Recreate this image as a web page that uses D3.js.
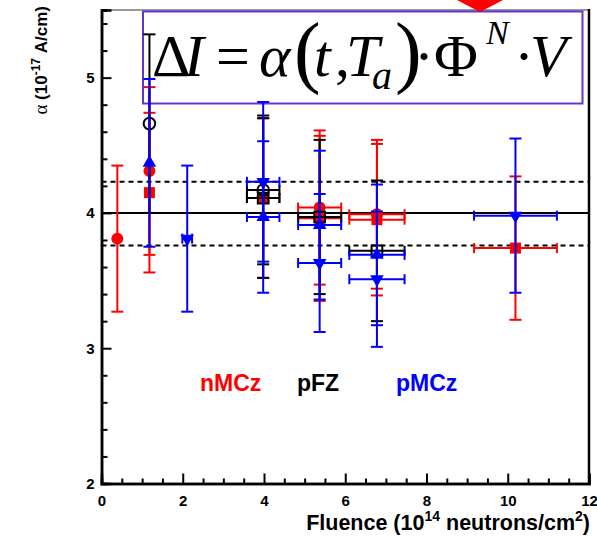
<!DOCTYPE html>
<html>
<head>
<meta charset="utf-8">
<script src="https://cdn.jsdelivr.net/npm/d3@7"></script>
<style>
body { margin: 0; background: #fff; }
svg { display: block; font-family: "Liberation Sans", Arial, sans-serif; }
</style>
</head>
<body>
<svg id="chart" width="597" height="537"></svg>
<script>
// fluence in 1e14 n/cm2, alpha in 1e-17 A/cm
const nMCzCircX = [0.39, 1.18, 5.37, 6.78];
const nMCzCircY = [3.81, 4.31, 4.04, 3.99];
const nMCzCircEy = [0.54, 0.62, 0.57, 0.55];
const nMCzCircEx = [0, 0, 0.53, 0.68];

const nMCzSqX = [1.18, 3.98, 5.37, 6.78, 10.19];
const nMCzSqY = [4.15, 4.11, 3.96, 3.95, 3.74];
const nMCzSqEy = [0.59, 0.59, 0.61, 0.56, 0.53];
const nMCzSqEx = [0, 0.4, 0.53, 0.68, 1.02];

const pFZCircX = [1.18, 3.98];
const pFZCircY = [4.66, 4.17];
const pFZCircEy = [0.66, 0.55];
const pFZCircEx = [0, 0.4];

const pFZSqX = [3.98, 5.37, 6.78];
const pFZSqY = [4.11, 3.97, 3.72];
const pFZSqEy = [0.59, 0.57, 0.52];
const pFZSqEx = [0.4, 0.53, 0.68];

const pMCzUpX = [1.18, 3.98, 5.37, 6.78];
const pMCzUpY = [4.37, 3.97, 3.91, 3.69];
const pMCzUpEy = [0.62, 0.56, 0.55, 0.52];
const pMCzUpEx = [0, 0.4, 0.53, 0.68];

const pMCzDownX = [2.11, 3.98, 5.37, 6.78, 10.19];
const pMCzDownY = [3.81, 4.23, 3.63, 3.51, 3.98];
const pMCzDownEy = [0.54, 0.59, 0.51, 0.5, 0.57];
const pMCzDownEx = [0.12, 0.4, 0.53, 0.68, 1.02];

const meanLine = 4.0;
const bandLines = [4.23, 3.76];

const xMajor = [0, 2, 4, 6, 8, 10, 12];
const yMajor = [2, 3, 4, 5];

const legendNames = ['nMCz', 'pFZ', 'pMCz'];

const svg = d3.select('#chart');
const x = d3.scaleLinear().domain([0, 12]).range([101.5, 589]);
const y = d3.scaleLinear().domain([2, 5.5]).range([483.5, 10]);

const sans = '"Liberation Sans", Arial, sans-serif';
const serif = '"Liberation Serif", "Times New Roman", serif';

// frame
svg.append('line').attr('x1', 101.5).attr('x2', 589).attr('y1', 10).attr('y2', 10)
    .attr('stroke', '#777').attr('stroke-width', 1.5);
svg.append('line').attr('x1', 589).attr('x2', 589).attr('y1', 9).attr('y2', 484.5)
    .attr('stroke', '#000').attr('stroke-width', 2.5);

// axes
const xMinor = d3.range(0, 12.01, 0.5).filter(v => v % 2 !== 0);
const yMinor = d3.range(2, 5.51, 0.2).filter(v => Math.abs(v - Math.round(v)) > 0.01);

const gx = svg.append('g').attr('transform', 'translate(0,483.5)');
gx.call(d3.axisBottom(x).tickValues(xMajor).tickSize(-10).tickPadding(12).tickFormat(d3.format('d')));
gx.append('g').call(d3.axisBottom(x).tickValues(xMinor).tickSize(-5).tickFormat(''));
gx.selectAll('.tick line').attr('stroke-width', 2);

const gy = svg.append('g').attr('transform', 'translate(101.5,0)');
gy.call(d3.axisLeft(y).tickValues(yMajor).tickSize(-10).tickPadding(7).tickFormat(d3.format('d')));
gy.append('g').call(d3.axisLeft(y).tickValues(yMinor).tickSize(-6).tickFormat(''));
gy.selectAll('.tick line').attr('stroke-width', 2);

svg.selectAll('.domain').attr('stroke-width', 2.5);
svg.selectAll('.tick text').style('font-family', sans).style('font-size', '15px').style('font-weight', 'bold');

// reference lines
svg.append('line').attr('x1', x(0)).attr('x2', x(12)).attr('y1', y(meanLine)).attr('y2', y(meanLine))
    .attr('stroke', '#000').attr('stroke-width', 2);
svg.selectAll('.band').data(bandLines).enter().append('line')
    .attr('x1', x(0)).attr('x2', x(12)).attr('y1', d => y(d)).attr('y2', d => y(d))
    .attr('stroke', '#000').attr('stroke-width', 2).attr('stroke-dasharray', '5,4');

// formula box (under the data, the error bars run over it)
svg.append('rect').attr('x', 143).attr('y', 11.5).attr('width', 439.5).attr('height', 92)
    .attr('fill', '#fff').attr('stroke', '#6633cc').attr('stroke-width', 2);

const glyphs = [
    { t: '\u0394', x: 152, y: 76, s: 60, i: false },
    { t: 'I', x: 184, y: 76, s: 60, i: true },
    { t: '=', x: 216, y: 76, s: 60, i: false },
    { t: '\u03b1', x: 259, y: 76, s: 60, i: true },
    { t: '(', x: 294, y: 78, s: 80, i: false },
    { t: 't', x: 314, y: 76, s: 60, i: true },
    { t: ',', x: 335, y: 76, s: 60, i: false },
    { t: 'T', x: 346, y: 76, s: 60, i: true },
    { t: 'a', x: 372, y: 89, s: 40, i: true },
    { t: ')', x: 395, y: 78, s: 80, i: false },
    { t: '\u00b7', x: 414, y: 76, s: 60, i: false },
    { t: '\u03a6', x: 434, y: 76, s: 60, i: false },
    { t: 'N', x: 486, y: 44, s: 34, i: true },
    { t: '\u00b7', x: 514, y: 76, s: 60, i: false },
    { t: 'V', x: 530, y: 76, s: 60, i: true }
];
const formula = svg.append('text').style('font-family', serif).style('font-size', '60px');
formula.selectAll('tspan').data(glyphs).enter().append('tspan')
    .attr('x', d => d.x).attr('y', d => d.y)
    .style('font-size', d => d.s + 'px')
    .style('font-style', d => d.i ? 'italic' : 'normal')
    .text(d => d.t);

// series
function zip(xs, ys, eys, exs) {
    return xs.map((v, i) => ({ x: v, y: ys[i], ey: eys[i], ex: exs[i] }));
}

const series = [
    { color: '#ff0000', shape: 'square', fill: true, data: zip(nMCzSqX, nMCzSqY, nMCzSqEy, nMCzSqEx) },
    { color: '#ff0000', shape: 'circle', fill: true, data: zip(nMCzCircX, nMCzCircY, nMCzCircEy, nMCzCircEx) },
    { color: '#000000', shape: 'square', fill: false, data: zip(pFZSqX, pFZSqY, pFZSqEy, pFZSqEx) },
    { color: '#000000', shape: 'circle', fill: false, data: zip(pFZCircX, pFZCircY, pFZCircEy, pFZCircEx) },
    { color: '#0000ff', shape: 'up', fill: true, data: zip(pMCzUpX, pMCzUpY, pMCzUpEy, pMCzUpEx) },
    { color: '#0000ff', shape: 'down', fill: true, data: zip(pMCzDownX, pMCzDownY, pMCzDownEy, pMCzDownEx) }
];

const capW = 6, capH = 5;

series.forEach(s => {
    const g = svg.append('g');
    const pts = g.selectAll('g').data(s.data).enter().append('g');

    pts.append('line')
        .attr('x1', d => x(d.x)).attr('x2', d => x(d.x))
        .attr('y1', d => y(d.y - d.ey)).attr('y2', d => y(d.y + d.ey))
        .attr('stroke', s.color).attr('stroke-width', 2);
    [-1, 1].forEach(sg => {
        pts.append('line')
            .attr('x1', d => x(d.x) - capW).attr('x2', d => x(d.x) + capW)
            .attr('y1', d => y(d.y + sg * d.ey)).attr('y2', d => y(d.y + sg * d.ey))
            .attr('stroke', s.color).attr('stroke-width', 2);
    });

    const hx = pts.filter(d => d.ex > 0);
    hx.append('line')
        .attr('x1', d => x(d.x - d.ex)).attr('x2', d => x(d.x + d.ex))
        .attr('y1', d => y(d.y)).attr('y2', d => y(d.y))
        .attr('stroke', s.color).attr('stroke-width', 2);
    [-1, 1].forEach(sg => {
        hx.append('line')
            .attr('x1', d => x(d.x + sg * d.ex)).attr('x2', d => x(d.x + sg * d.ex))
            .attr('y1', d => y(d.y) - capH).attr('y2', d => y(d.y) + capH)
            .attr('stroke', s.color).attr('stroke-width', 2);
    });

    let sym;
    if (s.shape === 'circle') sym = d3.symbol(d3.symbolCircle, s.fill ? 113 : 105);
    else if (s.shape === 'square') sym = d3.symbol(d3.symbolSquare, s.fill ? 121 : 115);
    else sym = d3.symbol(d3.symbolTriangle, 80);

    pts.append('path')
        .attr('d', sym)
        .attr('transform', d => `translate(${x(d.x)},${y(d.y)})` + (s.shape === 'down' ? ' rotate(180)' : ''))
        .attr('fill', s.fill ? s.color : 'none')
        .attr('stroke', s.color)
        .attr('stroke-width', s.fill ? 0 : 2);
});

// legend labels
const legendColors = ['#ff0000', '#000000', '#0000ff'];
const legendX = [200, 297, 396];
svg.selectAll('.leg').data(legendNames).enter().append('text')
    .attr('x', (d, i) => legendX[i]).attr('y', 390.5)
    .attr('fill', (d, i) => legendColors[i])
    .style('font-family', sans).style('font-size', '23px').style('font-weight', 'bold')
    .text(d => d);

// axis titles
const xt = svg.append('text').attr('x', 590).attr('y', 530)
    .attr('text-anchor', 'end')
    .style('font-family', sans).style('font-size', '21.5px').style('font-weight', 'bold');
xt.append('tspan').text('Fluence (10');
xt.append('tspan').style('font-size', '14px').attr('dy', -9).text('14');
xt.append('tspan').attr('dy', 9).text(' neutrons/cm');
xt.append('tspan').style('font-size', '14px').attr('dy', -9).text('2');
xt.append('tspan').attr('dy', 9).text(')');

const yt = svg.append('text').attr('transform', 'translate(47,6) rotate(-90)')
    .attr('text-anchor', 'end')
    .style('font-family', sans).style('font-size', '17px').style('font-weight', 'bold');
yt.append('tspan').style('font-weight', 'normal').style('font-family', serif).style('font-size', '19px').text('\u03b1');
yt.append('tspan').text(' (10');
yt.append('tspan').style('font-size', '12px').attr('dy', -7).text('-17');
yt.append('tspan').attr('dy', 7).text(' A/cm)');

// red arrow head at top
svg.append('path').attr('d', 'M457,0 L503,0 L480,12 Z').attr('fill', '#ff0000');
</script>
</body>
</html>
